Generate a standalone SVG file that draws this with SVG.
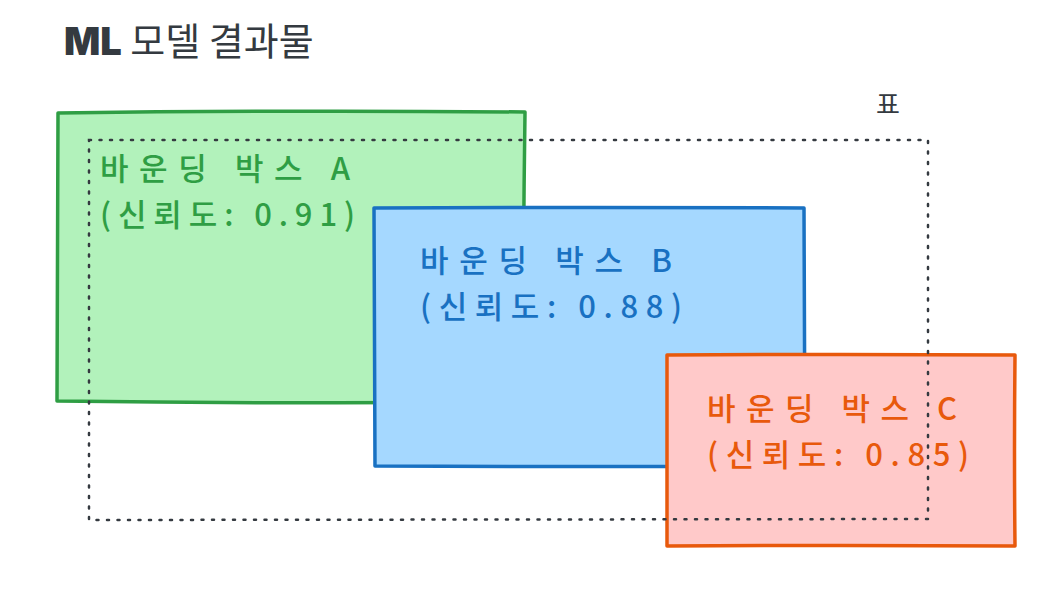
<svg xmlns="http://www.w3.org/2000/svg" width="1064" height="608" viewBox="0 0 1064 608">
<style>
.title{font-family:"Noto Sans CJK KR","Noto Sans",sans-serif;fill:#343a40}
.lbl{font-family:"Noto Sans CJK KR",sans-serif;font-size:31px;font-weight:500}
.box{stroke-width:3.5;stroke-linejoin:round}
.frame{fill:none;stroke:#343a40;stroke-width:2.5;stroke-dasharray:2 8.5;stroke-linecap:round}
</style>
<rect width="1064" height="608" fill="#ffffff"/>
<text class="title" x="64" y="55" font-size="38"><tspan font-weight="900" font-family="Inter, 'Noto Sans', sans-serif">ML</tspan> 모델 결과물</text>
<text class="title" x="876" y="114" font-size="26">표</text>
<g id="boxA">
<path class="box" d="M58 113 Q290 110 525 112 Q523 258 523 402 Q290 404 57 401 Q58 258 58 113 Z" fill="#b2f2bb" stroke="#2f9e44"/>
<text class="lbl" fill="#2f9e44"><tspan x="100" y="180" textLength="250" lengthAdjust="spacing">바운딩 박스 A</tspan><tspan x="100" y="226" textLength="255" lengthAdjust="spacing">(신뢰도: 0.91)</tspan></text>
</g>
<g id="boxB">
<path class="box" d="M374 208 Q590 207 804 208 Q805 337 805 466 Q590 467 375 466 Q374 337 374 208 Z" fill="#a5d8ff" stroke="#1971c2"/>
<text class="lbl" fill="#1971c2"><tspan x="420" y="272" textLength="252" lengthAdjust="spacing">바운딩 박스 B</tspan><tspan x="420" y="318" textLength="262" lengthAdjust="spacing">(신뢰도: 0.88)</tspan></text>
</g>
<g id="boxC">
<path class="box" d="M667 355 Q840 354 1015 355 Q1014 450 1015 546 Q840 545 667 546 Q667 450 667 355 Z" fill="#ffc9c9" stroke="#e8590c"/>
<text class="lbl" fill="#e8590c"><tspan x="707" y="420" textLength="250" lengthAdjust="spacing">바운딩 박스 C</tspan><tspan x="707" y="466" textLength="262" lengthAdjust="spacing">(신뢰도: 0.85)</tspan></text>
</g>
<g id="table">
<path class="frame" d="M89 140 L928 140 L928 519 L89 520 Z"/>
</g>
</svg>
